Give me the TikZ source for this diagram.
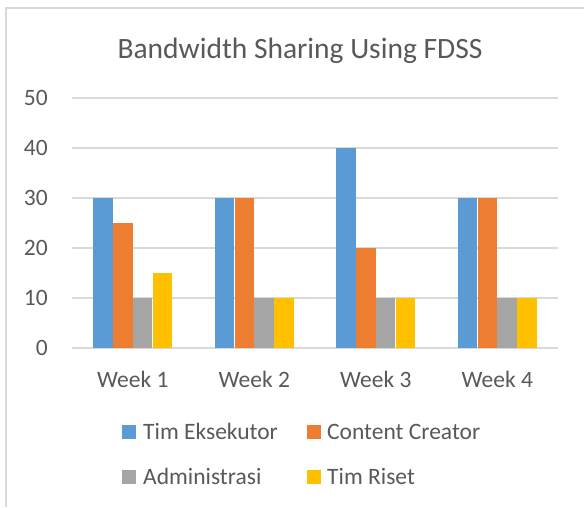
\documentclass[tikz,border=0pt]{standalone}
\usepackage{fontspec}
\setmainfont{Carlito}
\definecolor{txt}{HTML}{595959}
\definecolor{grid}{HTML}{D9D9D9}
\definecolor{frame}{HTML}{D9D9D9}
\definecolor{cblue}{HTML}{5B9BD5}
\definecolor{corange}{HTML}{ED7D31}
\definecolor{cgray}{HTML}{A5A5A5}
\definecolor{cyellow}{HTML}{FFC000}
\tikzset{
  gridline/.style={draw=grid, line width=1.5pt},
  axislabel/.style={text=txt, inner sep=0pt, font=\fontsize{23.5}{28}\selectfont},
  titlelabel/.style={text=txt, inner sep=0pt, font=\fontsize{29.5}{34}\selectfont},
  legendbox/.style={inner sep=0pt, minimum size=14pt},
}
\begin{document}
\begin{tikzpicture}[x=1pt,y=-1pt]
\useasboundingbox[fill=white] (0,0) rectangle (584,507);
% chart frame (cropped on right and bottom)
\draw[frame, line width=1.2pt] (6,507) -- (6,8) -- (584,8);
% title
\node[titlelabel, anchor=base] (title) at (300,58) {Bandwidth Sharing Using FDSS};
% gridlines and y labels
\foreach \v/\n in {0/a,10/b,20/c,30/d,40/e,50/f} {
  \pgfmathsetmacro{\yy}{348-5*\v}
  \draw[gridline] (72,\yy) -- (558,\yy);
  \node[axislabel, anchor=base east] (y\n) at (48,\yy+7.5) {\v};
}
% bars
\foreach \i/\b/\o/\g/\y in {1/30/25/10/15, 2/30/30/10/10, 3/40/20/10/10, 4/30/30/10/10} {
  \pgfmathsetmacro{\c}{72+121.5*(\i-0.5)}
  \pgfmathsetmacro{\xa}{\c-39.5}
  \fill[cblue] (\xa,348) rectangle ++(19.5,-5*\b);
  \fill[corange] (\xa+19.75,348) rectangle ++(19.5,-5*\o);
  \fill[cgray] (\xa+39.5,348) rectangle ++(19.5,-5*\g);
  \fill[cyellow] (\xa+59.25,348) rectangle ++(19.5,-5*\y);
  \node[axislabel, anchor=base] (w\i) at (\c,387) {Week \i};
}
% legend
\node[legendbox, fill=cblue] (l1) at (129,432) {};
\node[axislabel, anchor=base west] (t1) at (143,439.5) {Tim Eksekutor};
\node[legendbox, fill=corange] (l2) at (314,432) {};
\node[axislabel, anchor=base west] (t2) at (327,439.5) {Content Creator};
\node[legendbox, fill=cgray] (l3) at (129,477) {};
\node[axislabel, anchor=base west] (t3) at (143,484.5) {Administrasi};
\node[legendbox, fill=cyellow] (l4) at (314,477) {};
\node[axislabel, anchor=base west] (t4) at (327,484.5) {Tim Riset};
\end{tikzpicture}
\end{document}
